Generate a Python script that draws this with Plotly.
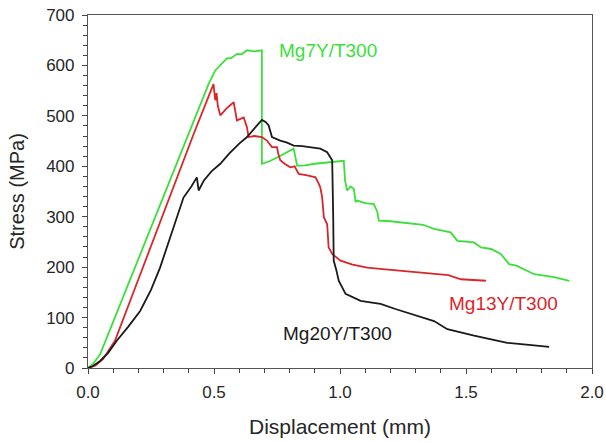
import plotly.graph_objects as go

# Mg7Y/T300 (green)
g_x = [0, 0.02, 0.048, 0.1, 0.2, 0.293, 0.4, 0.48, 0.505, 0.53, 0.551, 0.57, 0.591, 0.61, 0.631, 0.66, 0.69,
       0.69, 0.72, 0.76, 0.816, 0.83, 0.86, 0.9, 0.95, 1.015, 1.02, 1.028, 1.042, 1.055, 1.062, 1.068, 1.1,
       1.134, 1.148, 1.154, 1.2, 1.25, 1.294, 1.33, 1.373, 1.4, 1.439, 1.466, 1.5, 1.532, 1.559, 1.6, 1.638,
       1.671, 1.7, 1.771, 1.85, 1.91]
g_y = [0, 8, 27, 92, 216, 332, 465, 565, 590, 603, 614, 615, 623, 622, 630, 628, 630,
       405, 410, 420, 435, 401, 402, 405, 407, 411, 372, 352, 360, 355, 329, 332, 327,
       325, 310, 292, 291, 288, 286, 284, 276, 273, 269, 252, 251, 249, 239, 236, 226,
       206, 203, 186, 180, 173]

# Mg13Y/T300 (red)
r_x = [0, 0.03, 0.06, 0.107, 0.2, 0.319, 0.42, 0.498, 0.502, 0.505, 0.51, 0.515, 0.525, 0.55, 0.578, 0.585,
       0.591, 0.618, 0.625, 0.631, 0.637, 0.66, 0.69, 0.71, 0.73, 0.75, 0.755, 0.763, 0.78, 0.803, 0.82, 0.836,
       0.87, 0.903, 0.916, 0.922, 0.929, 0.936, 0.949, 0.955, 0.969, 1.002, 1.05, 1.108, 1.17, 1.24, 1.3,
       1.373, 1.43, 1.48, 1.54, 1.579]
r_y = [0, 5, 18, 54, 176, 332, 465, 563, 540, 531, 545, 520, 501, 515, 527, 505,
       491, 497, 485, 477, 458, 460, 458, 451, 438, 438, 425, 412, 405, 398, 400, 385,
       382, 378, 365, 358, 339, 299, 285, 239, 226, 213, 205, 199, 196, 193, 190,
       186, 184, 176, 175, 173]

# Mg20Y/T300 (black)
k_x = [0, 0.02, 0.048, 0.08, 0.114, 0.16, 0.207, 0.25, 0.286, 0.33, 0.379, 0.41, 0.432, 0.439, 0.46, 0.49,
       0.525, 0.56, 0.6, 0.631, 0.66, 0.69, 0.705, 0.717, 0.73, 0.763, 0.79, 0.816, 0.85, 0.883, 0.922, 0.949,
       0.969, 0.973, 0.975, 0.985, 0.995, 1.022, 1.05, 1.082, 1.12, 1.161, 1.22, 1.28, 1.33, 1.373, 1.426,
       1.48, 1.532, 1.6, 1.664, 1.75, 1.83]
k_y = [0, 4, 14, 30, 54, 82, 113, 155, 199, 265, 338, 360, 378, 352, 372, 390,
       405, 425, 445, 458, 474, 492, 488, 481, 458, 451, 447, 441, 440, 438, 435, 428,
       412, 300, 213, 195, 173, 147, 140, 133, 130, 127, 117, 107, 100, 93, 77,
       70, 64, 57, 50, 46, 42]

GREEN = "#3adf3a"
RED = "#d9262a"
BLACK = "#1a1a1a"
TEXT = "#262626"
FONT = "Arial, Liberation Sans, sans-serif"

fig = go.Figure()
fig.add_trace(go.Scatter(x=g_x, y=g_y, mode="lines", line=dict(color=GREEN, width=1.8), name="Mg7Y/T300"))
fig.add_trace(go.Scatter(x=r_x, y=r_y, mode="lines", line=dict(color=RED, width=1.8), name="Mg13Y/T300"))
fig.add_trace(go.Scatter(x=k_x, y=k_y, mode="lines", line=dict(color=BLACK, width=1.8), name="Mg20Y/T300"))

fig.add_annotation(x=0.75, y=630, text="Mg7Y/T300", showarrow=False, xanchor="left",
                   font=dict(color=GREEN, size=19, family=FONT))
fig.add_annotation(x=1.647, y=127, text="Mg13Y/T300", showarrow=False,
                   font=dict(color=RED, size=19, family=FONT))
fig.add_annotation(x=0.99, y=68, text="Mg20Y/T300", showarrow=False,
                   font=dict(color=BLACK, size=19, family=FONT))

axis_common = dict(showgrid=False, zeroline=False, showline=True, linecolor="#555555", linewidth=1.2,
                   mirror=True, ticks="outside", ticklen=5, tickcolor="#444444", tickwidth=1,
                   automargin=False, ticklabeloverflow="allow",
                   tickfont=dict(size=17, family=FONT, color=TEXT))

fig.update_xaxes(range=[0, 2.0], tickmode="linear", tick0=0, dtick=0.5, tickformat=".1f",
                 ticklabelstandoff=3,
                 minor=dict(tickmode="linear", tick0=0, dtick=0.1, ticks="outside", ticklen=4,
                            tickcolor="#444444"),
                 title=dict(text="Displacement (mm)", font=dict(size=21, family=FONT, color=TEXT),
                            standoff=18),
                 **axis_common)
fig.update_yaxes(range=[0, 700], tickmode="linear", tick0=0, dtick=100,
                 ticklabelstandoff=4,
                 minor=dict(tickmode="linear", tick0=0, dtick=20, ticks="outside", ticklen=4,
                            tickcolor="#444444"),
                 title=dict(text="Stress (MPa)", font=dict(size=20, family=FONT, color=TEXT),
                            standoff=16),
                 **axis_common)

fig.update_layout(width=606, height=443, margin=dict(l=88, r=14, t=15, b=75),
                  paper_bgcolor="white", plot_bgcolor="white", showlegend=False,
                  font=dict(family=FONT))

# remove the default 8px page margin so the figure fills the window exactly
fig.write_html("out.html", config={"displayModeBar": False},
               post_script="document.body.style.margin='0';")
